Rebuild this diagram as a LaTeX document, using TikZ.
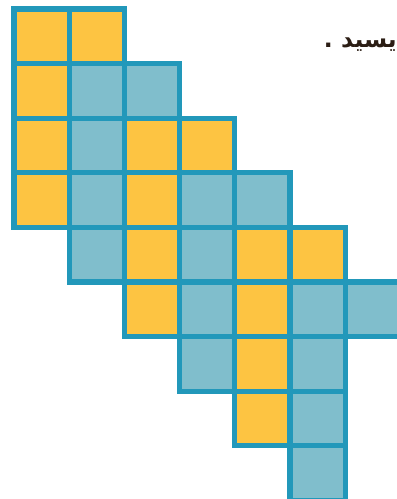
\documentclass[tikz,border=0pt]{standalone}
\usepackage{fontspec}
\newfontfamily\arabicfont[Script=Arabic]{DejaVu Sans}
\TeXXeTstate=1
\definecolor{gridline}{HTML}{2298BA}
\definecolor{cellY}{HTML}{FDC442}
\definecolor{cellB}{HTML}{80BECC}
\definecolor{inkdark}{HTML}{2B1D14}
\tikzset{cell/.style={draw=gridline, line width=4.3pt, line join=miter}}
\begin{document}
\begin{tikzpicture}[x=0.03cm, y=-0.03cm]
    \useasboundingbox (0,0) rectangle (397,499);
    \clip (0,0) rectangle (397,499);
    % column/row/fill of every square
    \foreach \c/\r/\col in {0/0/cellY, 1/0/cellY,
        0/1/cellY, 1/1/cellB, 2/1/cellB,
        0/2/cellY, 1/2/cellB, 2/2/cellY, 3/2/cellY,
        0/3/cellY, 1/3/cellB, 2/3/cellY, 3/3/cellB, 4/3/cellB,
        1/4/cellB, 2/4/cellY, 3/4/cellB, 4/4/cellY, 5/4/cellY,
        2/5/cellY, 3/5/cellB, 4/5/cellY, 5/5/cellB, 6/5/cellB,
        3/6/cellB, 4/6/cellY, 5/6/cellB,
        4/7/cellY, 5/7/cellB,
        5/8/cellB} {
      \filldraw[cell, fill=\col] ({14+55.2*\c},{9+54.6*\r}) rectangle ++(55.2,54.6);
    }
    \node[anchor=east, inner sep=0pt, text=inkdark] (word) at (397,45)
      {\arabicfont\bfseries\fontsize{20}{24}\selectfont\beginR يسيد .\endR};
  \end{tikzpicture}
\end{document}
